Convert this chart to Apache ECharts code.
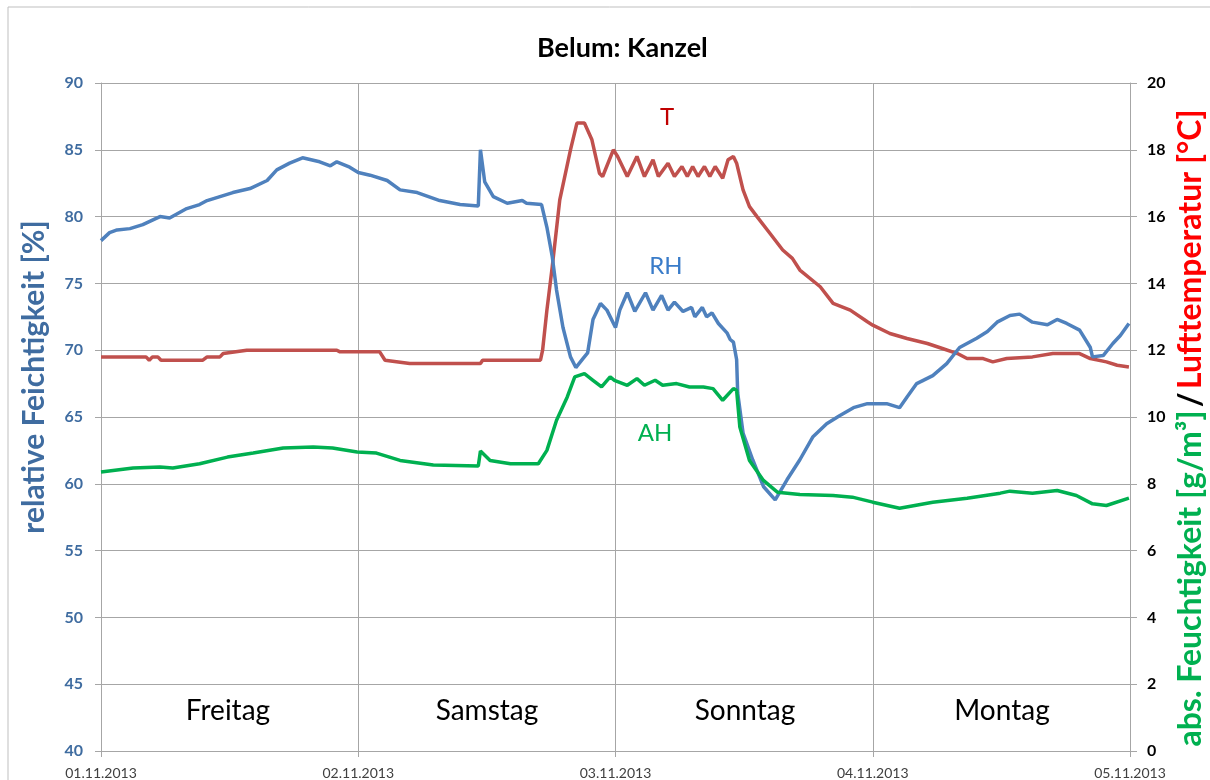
<!DOCTYPE html>
<html>
<head>
<meta charset="utf-8">
<script src="https://cdn.jsdelivr.net/npm/echarts@6/dist/echarts.min.js"></script>
<style>
  html, body { margin: 0; padding: 0; background: #fff; }
  #main { width: 1210px; height: 780px; }
</style>
</head>
<body>
<div id="main"></div>
<script>
// x-Achse: Stunden seit 01.11.2013 00:00
var dateLabels = ['01.11.2013', '02.11.2013', '03.11.2013', '04.11.2013', '05.11.2013'];
var dayNames = ['Freitag', 'Samstag', 'Sonntag', 'Montag'];

// relative Feuchtigkeit [%] (linke Achse)
var rhHours = [0,0.8,1.5,2.7,3.9,5.5,6.4,8.0,9.2,9.9,
  11.1,12.3,13.9,15.5,16.4,17.6,18.8,20.4,21.4,22.0,
  23.2,24.0,25.1,26.7,27.9,29.5,31.6,33.5,35.2,35.4,
  35.8,36.6,37.9,39.3,39.7,41.1,41.6,42.1,42.5,43.1,
  43.8,44.3,45.0,45.4,45.9,46.6,47.2,48.0,48.4,49.1,
  49.8,50.8,51.5,52.3,52.9,53.5,54.3,55.1,55.4,56.1,
  56.5,57.0,57.6,58.4,58.7,59.0,59.3,59.4,59.9,60.8,
  61.8,62.9,64.0,65.2,66.4,67.7,68.9,70.2,71.5,72.4,
  73.3,74.5,75.2,76.1,77.6,78.9,80.1,81.7,82.7,83.6,
  84.8,85.7,86.9,88.3,89.2,90.1,91.3,92.3,92.5,93.5,
  94.4,95.1,95.9];
var rhValues = [78.2,78.8,79.0,79.1,79.4,80.0,79.9,80.6,80.9,81.2,
  81.5,81.8,82.1,82.7,83.5,84.0,84.4,84.1,83.8,84.1,
  83.7,83.3,83.1,82.7,82.0,81.8,81.2,80.9,80.8,85.0,
  82.6,81.5,81.0,81.2,81.0,80.9,79.2,77.0,74.5,71.7,
  69.5,68.7,69.4,69.8,72.3,73.5,73.0,71.7,73.0,74.3,
  72.9,74.3,73.0,74.1,73.0,73.6,72.9,73.2,72.5,73.2,
  72.5,72.8,72.0,71.3,70.8,70.6,69.3,66.8,63.8,61.8,
  59.8,58.8,60.3,61.8,63.5,64.5,65.1,65.7,66.0,66.0,
  66.0,65.7,66.5,67.5,68.1,69.0,70.2,70.9,71.4,72.1,
  72.6,72.7,72.1,71.9,72.3,72.0,71.5,70.2,69.5,69.6,
  70.5,71.1,72.0];

// Lufttemperatur [°C] (rechte Achse)
var tHours = [0,4.2,4.5,4.8,5.3,5.6,6.7,9.5,9.9,11.1,
  11.4,13.6,22.0,22.3,26.0,26.5,28.8,35.4,35.6,40.0,
  41.0,41.2,41.6,42.1,42.8,43.8,44.4,45.1,45.8,46.5,
  46.8,47.8,48.2,49.1,50.0,50.7,51.5,52.0,52.9,53.5,
  54.2,54.7,55.2,55.7,56.3,56.8,57.3,58.0,58.5,59.0,
  59.3,59.9,60.5,61.2,62.4,63.6,64.5,65.2,67.1,68.3,
  69.9,71.5,72.0,73.6,75.2,77.1,78.5,79.9,80.8,82.3,
  83.2,84.5,86.9,88.8,91.3,92.3,93.8,94.8,95.9];
var tValues = [11.8,11.8,11.7,11.8,11.8,11.7,11.7,11.7,11.8,11.8,
  11.9,12.0,12.0,11.95,11.95,11.7,11.6,11.6,11.7,11.7,
  11.7,12.0,13.2,14.5,16.5,18.0,18.8,18.8,18.3,17.3,
  17.2,18.0,17.8,17.2,17.8,17.2,17.7,17.2,17.6,17.2,
  17.5,17.2,17.5,17.2,17.5,17.2,17.5,17.15,17.7,17.8,
  17.6,16.8,16.3,16.0,15.5,15.0,14.75,14.4,13.9,13.4,
  13.2,12.85,12.75,12.5,12.35,12.2,12.05,11.9,11.75,11.75,
  11.65,11.75,11.8,11.9,11.9,11.75,11.65,11.55,11.5];

// abs. Feuchtigkeit [g/m3] (rechte Achse)
var ahHours = [0,3.0,5.5,6.7,9.2,11.8,14.2,17.0,19.8,21.6,
  23.9,25.7,27.9,31.0,35.2,35.4,36.3,38.2,40.0,40.8,
  41.6,42.5,43.5,44.2,45.1,45.9,46.7,47.5,47.9,49.1,
  50.0,50.7,51.7,52.4,53.7,54.9,56.2,57.1,58.0,59.0,
  59.3,59.6,60.5,61.8,63.1,65.2,68.3,70.1,72.0,74.5,
  77.6,80.8,83.9,84.8,86.9,89.2,91.0,92.5,93.8,95.9];
var ahValues = [8.35,8.47,8.5,8.47,8.6,8.8,8.92,9.07,9.1,9.07,
  8.95,8.92,8.7,8.56,8.53,8.98,8.7,8.6,8.6,8.6,
  9.0,9.9,10.6,11.2,11.3,11.1,10.9,11.2,11.1,10.95,
  11.15,10.95,11.1,10.95,11.0,10.9,10.9,10.85,10.5,10.85,
  10.8,9.7,8.7,8.1,7.75,7.68,7.65,7.6,7.45,7.27,
  7.45,7.57,7.72,7.78,7.72,7.8,7.65,7.4,7.35,7.57];

function pairs(h, v) {
  var res = [];
  for (var i = 0; i < h.length; i++) res.push([h[i], v[i]]);
  return res;
}

var FONT = 'Lato';
var gridCol = '#a6a6a6';

var chart = echarts.init(document.getElementById('main'));

var dayTexts = [];
var dayX = [228, 487, 745, 1002];
for (var i = 0; i < dayNames.length; i++) {
  dayTexts.push({
    type: 'text', x: dayX[i], y: 711,
    style: { text: dayNames[i], font: '28px ' + FONT, fill: '#000', align: 'center', verticalAlign: 'middle' }
  });
}

chart.setOption({
  animation: false,
  title: {
    text: 'Belum: Kanzel', left: 532, top: 30,
    textStyle: { fontFamily: FONT, fontSize: 27, fontWeight: 'bold', color: '#000' }
  },
  grid: { left: 101, right: 80, top: 83, bottom: 29 },
  xAxis: {
    type: 'value', min: 0, max: 96, interval: 24,
    axisLine: { show: true, lineStyle: { color: gridCol } },
    axisTick: { show: true, length: 6, lineStyle: { color: gridCol } },
    splitLine: { show: true, lineStyle: { color: gridCol, width: 1 } },
    axisLabel: {
      color: '#404040', fontFamily: FONT, fontSize: 14, margin: 15,
      formatter: function (v) { return dateLabels[Math.round(v / 24)]; }
    }
  },
  yAxis: [{
    type: 'value', min: 40, max: 90, interval: 5,
    axisLine: { show: true, lineStyle: { color: gridCol } },
    axisTick: { show: true, length: 6, lineStyle: { color: gridCol } },
    splitLine: { show: true, lineStyle: { color: gridCol, width: 1 } },
    axisLabel: { color: '#3f6ca0', fontFamily: FONT, fontSize: 16, fontWeight: 'bold', margin: 18 }
  }, {
    type: 'value', min: 0, max: 20, interval: 2, position: 'right',
    axisLine: { show: true, lineStyle: { color: gridCol } },
    axisTick: { show: true, length: 7, lineStyle: { color: gridCol } },
    splitLine: { show: false },
    axisLabel: { color: '#000', fontFamily: FONT, fontSize: 16, fontWeight: 'bold', margin: 17 }
  }],
  series: [{
    name: 'RH', type: 'line', yAxisIndex: 0, data: pairs(rhHours, rhValues),
    showSymbol: false, lineStyle: { color: '#4f81bd', width: 3.5 }, z: 3
  }, {
    name: 'T', type: 'line', yAxisIndex: 1, data: pairs(tHours, tValues),
    showSymbol: false, lineStyle: { color: '#c0504d', width: 3.5 }, z: 2
  }, {
    name: 'AH', type: 'line', yAxisIndex: 1, data: pairs(ahHours, ahValues),
    showSymbol: false, lineStyle: { color: '#00b050', width: 3.5 }, z: 4
  }],
  graphic: [{
    type: 'rect', shape: { x: 8, y: 7, width: 1220, height: 800 },
    style: { fill: null, stroke: '#bfbfbf', lineWidth: 1 }, silent: true
  }, {
    type: 'text', x: 667, y: 117,
    style: { text: 'T', font: '24px ' + FONT, fill: '#c00000', align: 'center', verticalAlign: 'middle' }
  }, {
    type: 'text', x: 666, y: 266,
    style: { text: 'RH', font: '24px ' + FONT, fill: '#3a7cc9', align: 'center', verticalAlign: 'middle' }
  }, {
    type: 'text', x: 655, y: 433,
    style: { text: 'AH', font: '24px ' + FONT, fill: '#00b050', align: 'center', verticalAlign: 'middle' }
  }, {
    type: 'text', x: 34, y: 377, rotation: Math.PI / 2,
    style: {
      text: 'relative Feichtigkeit [%]', font: 'bold 30px ' + FONT, fill: '#3f6ca0',
      align: 'center', verticalAlign: 'middle'
    }
  }, {
    type: 'text', x: 1191, y: 428, rotation: Math.PI / 2,
    style: {
      text: '{g|abs. Feuchtigkeit [g/m³]} {k|/} {r|Lufttemperatur [°C]}',
      align: 'center', verticalAlign: 'middle',
      rich: {
        g: { font: 'bold 32px ' + FONT, fill: '#00b050' },
        k: { font: 'bold 32px ' + FONT, fill: '#000' },
        r: { font: 'bold 32px ' + FONT, fill: '#ff0000' }
      }
    }
  }].concat(dayTexts)
});
</script>
</body>
</html>
